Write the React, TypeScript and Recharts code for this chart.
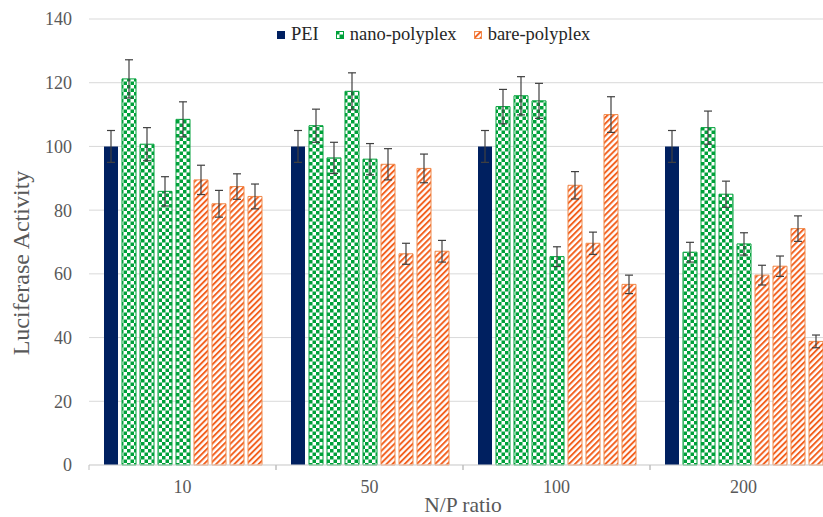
import {useLayoutEffect} from 'react';
import {BarChart, Bar, XAxis, YAxis, CartesianGrid, Legend, ErrorBar, Label} from 'recharts';

const categories = ['10', '50', '100', '200'];

// PEI reference, one bar per N/P ratio
const peiValues = [100, 100, 100, 100];
const peiErrors = [5, 5, 5, 5];

// nano-polyplex, four bars per N/P ratio
const nanoValues = [
  [121.2, 100.7, 85.9, 108.5],
  [106.5, 96.4, 117.3, 96.0],
  [112.5, 115.9, 114.3, 65.4],
  [66.8, 105.9, 85.0, 69.4],
];
const nanoErrors = [
  [6.0, 5.2, 4.6, 5.5],
  [5.2, 4.9, 5.8, 4.9],
  [5.4, 6.0, 5.5, 3.1],
  [3.1, 5.2, 4.1, 3.5],
];

// bare-polyplex, four bars per N/P ratio
const bareValues = [
  [89.5, 82.0, 87.4, 84.3],
  [94.4, 66.3, 93.1, 67.1],
  [87.8, 69.6, 110.0, 56.7],
  [59.6, 62.4, 74.2, 38.8],
];
const bareErrors = [
  [4.6, 4.2, 4.0, 3.9],
  [4.9, 3.3, 4.5, 3.4],
  [4.3, 3.5, 5.6, 2.9],
  [3.1, 3.2, 4.0, 2.0],
];

const yTicks = [0, 20, 40, 60, 80, 100, 120, 140];

const legendItems = [
  {name: 'PEI', fill: '#002060', stroke: '#002060'},
  {name: 'nano-polyplex', fill: 'url(#checker)', stroke: '#00a13a'},
  {name: 'bare-polyplex', fill: 'url(#hatch)', stroke: '#f0894a'},
];

const chartData = categories.map((cat, i) => {
  const row: Record<string, string | number> = {cat, pei: peiValues[i], peiErr: peiErrors[i]};
  nanoValues[i].forEach((v, j) => {
    row[`nano${j}`] = v;
    row[`nano${j}Err`] = nanoErrors[i][j];
  });
  bareValues[i].forEach((v, j) => {
    row[`bare${j}`] = v;
    row[`bare${j}Err`] = bareErrors[i][j];
  });
  return row;
});

const FONT = '"Liberation Serif", "Times New Roman", serif';
const TEXT = '#595959';

// category label plus Excel-style tick marks on the band edges
const XTick = (props: any) => {
  const {x, y, payload} = props;
  const half = payload?.offset || 93.5;
  return (
    <g>
      <line x1={x - half} y1={y - 8} x2={x - half} y2={y - 3} stroke="#bfbfbf" />
      <line x1={x + half} y1={y - 8} x2={x + half} y2={y - 3} stroke="#bfbfbf" />
      <text x={x} y={y + 20} textAnchor="middle" fill={TEXT} fontSize={18} fontFamily={FONT}>
        {payload.value}
      </text>
    </g>
  );
};

const renderLegend = () => (
  <div style={{display: 'flex', alignItems: 'center', fontFamily: FONT, fontSize: 18.5, color: '#262626'}}>
    {legendItems.map((item) => (
      <div key={item.name} style={{display: 'flex', alignItems: 'center', marginRight: 17}}>
        <svg width={8} height={8} style={{marginRight: 6}}>
          <rect x={0.5} y={0.5} width={7} height={7} fill={item.fill} stroke={item.stroke} />
        </svg>
        <span>{item.name}</span>
      </div>
    ))}
  </div>
);

export default function App() {
  // the plot runs past the right edge of the window, as in the source figure
  useLayoutEffect(() => {
    document.body.style.margin = '0';
  }, []);

  return (
    <div
      style={{
        width: 823,
        height: 517,
        paddingLeft: 8,
        paddingTop: 8,
        boxSizing: 'border-box',
        overflow: 'hidden',
        position: 'relative',
      }}
    >
      <svg width={0} height={0} style={{position: 'absolute'}}>
        <defs>
          <pattern id="checker" patternUnits="userSpaceOnUse" width={7} height={7}>
            <rect width={7} height={7} fill="#ffffff" />
            <rect width={3.5} height={3.5} fill="#00a13a" />
            <rect x={3.5} y={3.5} width={3.5} height={3.5} fill="#00a13a" />
          </pattern>
          <pattern id="hatch" patternUnits="userSpaceOnUse" width={4.3} height={4.3} patternTransform="rotate(45)">
            <rect width={4.3} height={4.3} fill="#ffffff" />
            <line x1={1} y1={0} x2={1} y2={4.3} stroke="#f25c19" strokeWidth={1.9} />
          </pattern>
        </defs>
      </svg>
      <BarChart
        width={840}
        height={509}
        data={chartData}
        margin={{top: 11, right: 11, left: 21, bottom: 0}}
        barSize={14}
        barGap={4}
      >
        <CartesianGrid vertical={false} stroke="#d9d9d9" />
        <XAxis
          dataKey="cat"
          height={52}
          tickLine={false}
          axisLine={{stroke: '#d9d9d9'}}
          tick={<XTick />}
          interval={0}
        >
          <Label
            content={(p: any) => (
              <text
                x={p.viewBox.x + p.viewBox.width / 2}
                y={p.viewBox.y + 47}
                textAnchor="middle"
                fill={TEXT}
                fontSize={21.5}
                fontFamily={FONT}
              >
                N/P ratio
              </text>
            )}
          />
        </XAxis>
        <YAxis
          width={60}
          domain={[0, 140]}
          ticks={yTicks}
          axisLine={false}
          tickLine={false}
          tickMargin={11}
          tick={{fontSize: 18, fill: TEXT, fontFamily: FONT}}
        >
          <Label
            content={(p: any) => {
              const cx = 13;
              const cy = p.viewBox.y + p.viewBox.height / 2 + 21;
              return (
                <text
                  x={cx}
                  y={cy}
                  transform={`rotate(-90 ${cx} ${cy})`}
                  textAnchor="middle"
                  dominantBaseline="central"
                  fill={TEXT}
                  fontSize={24}
                  fontFamily={FONT}
                >
                  Luciferase Activity
                </text>
              );
            }}
          />
        </YAxis>
        <Legend
          layout="horizontal"
          verticalAlign="middle"
          align="center"
          content={renderLegend}
          wrapperStyle={{top: 16, left: 269, width: 420}}
        />
        <Bar dataKey="pei" fill="#002060" isAnimationActive={false}>
          <ErrorBar dataKey="peiErr" width={4} stroke="#404040" strokeWidth={1.2} />
        </Bar>
        {[0, 1, 2, 3].map((j) => (
          <Bar
            key={`nano${j}`}
            dataKey={`nano${j}`}
            fill="url(#checker)"
            stroke="#00a13a"
            strokeWidth={1}
            isAnimationActive={false}
          >
            <ErrorBar dataKey={`nano${j}Err`} width={4} stroke="#404040" strokeWidth={1.2} />
          </Bar>
        ))}
        {[0, 1, 2, 3].map((j) => (
          <Bar
            key={`bare${j}`}
            dataKey={`bare${j}`}
            fill="url(#hatch)"
            stroke="#f0894a"
            strokeWidth={1}
            isAnimationActive={false}
          >
            <ErrorBar dataKey={`bare${j}Err`} width={4} stroke="#404040" strokeWidth={1.2} />
          </Bar>
        ))}
      </BarChart>
    </div>
  );
}
